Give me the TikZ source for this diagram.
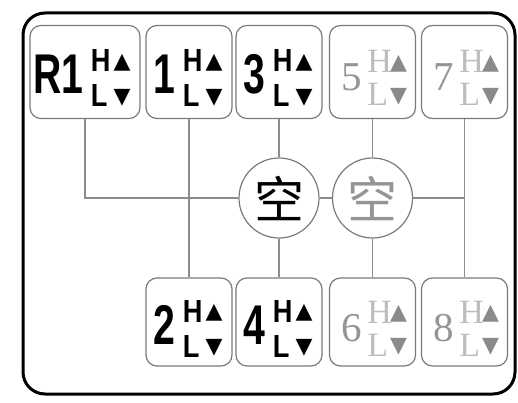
\documentclass[tikz,border=0pt]{standalone}
\usepackage{fontspec}
\usepackage{xcolor}
\usepackage{tikz}
\usetikzlibrary{positioning, calc}
\newfontfamily\numfont[FakeStretch=0.70]{Liberation Sans}
\newfontfamily\hlfont[FakeStretch=0.85]{Liberation Sans}
\newfontfamily\serfont{Liberation Serif}
\newfontfamily\symfont{DejaVu Sans}
\newfontfamily\cjkfont{Noto Sans CJK SC}
\definecolor{cFrame}{HTML}{7A7A7A}
\definecolor{cWire}{HTML}{8C8C8C}
\definecolor{cGhost}{HTML}{959595}
\definecolor{cGhostHL}{HTML}{BDBDBD}
\definecolor{cGhostTri}{HTML}{8A8A8A}

\begin{document}
\begin{tikzpicture}[
  x=1pt, y=-1pt,
  gear/.style={rectangle, rounded corners=11pt, draw=cFrame, line width=1.2pt,
               minimum width=86pt, minimum height=93pt},
  lowgear/.style={gear, minimum height=88pt},
  bignum/.style={inner sep=0pt, anchor=base east, font=\numfont\bfseries\fontsize{56}{56}\selectfont},
  hl/.style={inner sep=0pt, anchor=base west, font=\hlfont\bfseries\fontsize{32}{32}\selectfont},
  tri/.style={inner sep=0pt, font=\symfont\fontsize{22}{22}\selectfont},
  dimnum/.style={inner sep=0pt, anchor=base east, text=cGhost, font=\serfont\fontsize{41}{41}\selectfont},
  dimhl/.style={inner sep=0pt, anchor=base west, text=cGhostHL, font=\serfont\fontsize{34}{34}\selectfont},
  dimtri/.style={tri, text=cGhostTri},
  hub/.style={circle, draw=cFrame, line width=1.2pt, fill=white, minimum size=80pt,
              inner sep=0pt, font=\cjkfont\fontsize{50}{50}\selectfont},
  wire/.style={draw=cWire, line width=1.4pt},
  frame/.style={draw=black, line width=3pt, rounded corners=22pt},
]
\useasboundingbox (0,0) rectangle (518,403);

% Frame
\draw[frame] (23,13) rectangle (515,394);

% Top row
\node[gear, minimum width=110pt] (r1) at (85,72) {};
\node[gear] (g1) at (189,72) {};
\node[gear] (g3) at (279,72) {};
\node[gear] (g5) at (372.5,72) {};
\node[gear] (g7) at (464.5,72) {};

% Bottom row
\node[lowgear] (g2) at (189,322) {};
\node[lowgear] (g4) at (279,322) {};
\node[lowgear] (g6) at (372.5,322) {};
\node[lowgear] (g8) at (464.5,322) {};

% Gear labels
\foreach \g/\d in {r1/R1, g1/1, g3/3, g2/2, g4/4} {
  \node[bignum] (\g-num) at ($(\g.east)+(-57,22)$) {\d};
  \node[hl] (\g-h) at ($(\g.east)+(-50,0)$) {H};
  \node[hl] (\g-l) at ($(\g.east)+(-50,35)$) {L};
  \node[tri] (\g-up) at ($(\g.east)+(-18.5,-9.5)$) {▲};
  \node[tri] (\g-dn) at ($(\g.east)+(-18.5,25.5)$) {▼};
}
\foreach \g/\d in {g5/5, g7/7, g6/6, g8/8} {
  \node[dimnum] (\g-num) at ($(\g.east)+(-53.5,19)$) {\d};
  \node[dimhl] (\g-h) at ($(\g.east)+(-49,1)$) {H};
  \node[dimhl] (\g-l) at ($(\g.east)+(-49,34)$) {L};
  \node[dimtri] (\g-up) at ($(\g.east)+(-17.5,-8)$) {▲};
  \node[dimtri] (\g-dn) at ($(\g.east)+(-17.5,25)$) {▼};
}

% Neutral
\node[hub] (c1) at (279,198) {空};
\node[hub, text=cGhost] (c2) at (372.5,198) {空};

% Wires
\draw[wire] (r1.south) |- (c1.west);
\draw[wire] (g1.south) -- (g2.north);
\draw[wire] (g3.south) -- (c1.north);
\draw[wire] (c1.south) -- (g4.north);
\draw[wire] (c1.east) -- (c2.west);
\draw[wire] (g5.south) -- (c2.north);
\draw[wire] (c2.south) -- (g6.north);
\draw[wire] (g7.south) -- (g8.north);
\draw[wire] (c2.east) -- (c2.east -| g7.south);

\end{tikzpicture}
\end{document}
